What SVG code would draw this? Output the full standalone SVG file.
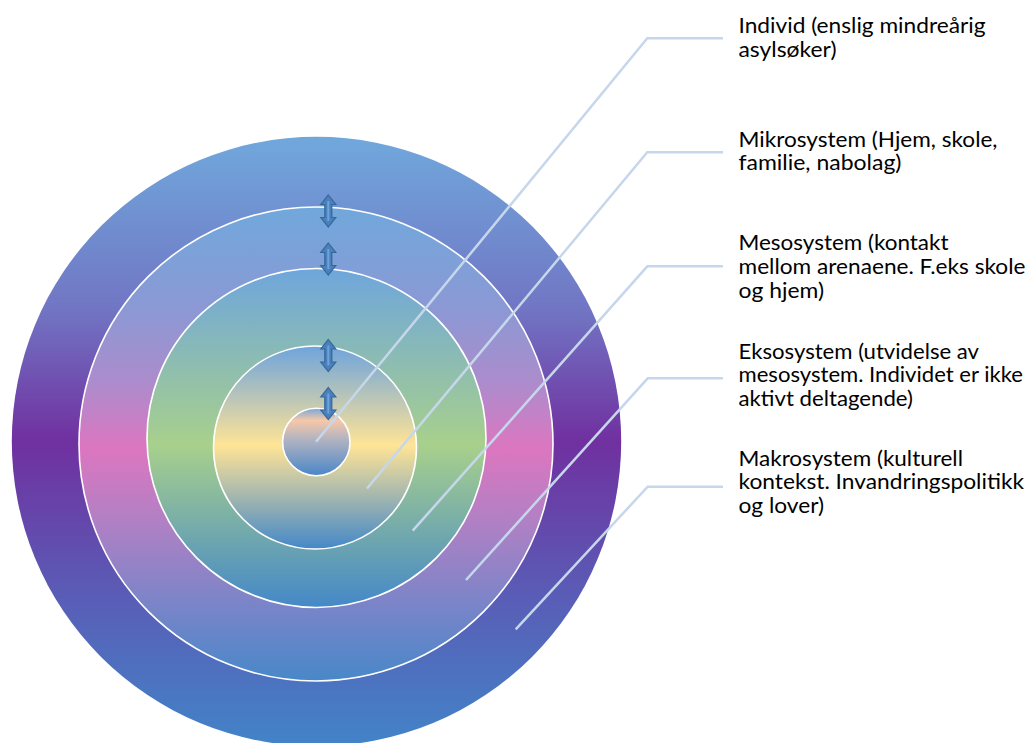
<svg xmlns="http://www.w3.org/2000/svg" xmlns:xlink="http://www.w3.org/1999/xlink" width="1031" height="743" viewBox="0 0 1031 743">
  <style>
    .ring { stroke: #ffffff; stroke-width: 1.6; }
    .leader { fill: none; stroke: #c6d7ec; stroke-width: 2.5; stroke-linejoin: miter; }
    .lbl { font-family: Lato, "Liberation Sans", sans-serif; font-size: 21px; fill: #000000; }
    .arr { fill: #4a80bb; stroke: #35679a; stroke-width: 1.2; stroke-linejoin: miter; }
    .arrhi { stroke: #6ea4da; stroke-width: 2; }
  </style>
  <defs>
    <linearGradient id="gMakro" x1="0" y1="0" x2="0" y2="1">
      <stop offset="0" stop-color="#70a8dc"/>
      <stop offset="0.28" stop-color="#7176c4"/>
      <stop offset="0.5" stop-color="#7030a0"/>
      <stop offset="0.75" stop-color="#5a5cb6"/>
      <stop offset="1" stop-color="#4284c8"/>
    </linearGradient>
    <linearGradient id="gEkso" x1="0" y1="0" x2="0" y2="1">
      <stop offset="0" stop-color="#70a8dc"/>
      <stop offset="0.22" stop-color="#8c98d4"/>
      <stop offset="0.37" stop-color="#ac8ccc"/>
      <stop offset="0.51" stop-color="#dc76c0"/>
      <stop offset="0.66" stop-color="#b280c4"/>
      <stop offset="0.82" stop-color="#8084c8"/>
      <stop offset="1" stop-color="#4888c8"/>
    </linearGradient>
    <linearGradient id="gMeso" x1="0" y1="0" x2="0" y2="1">
      <stop offset="0" stop-color="#6ea6dc"/>
      <stop offset="0.52" stop-color="#a8d08c"/>
      <stop offset="1" stop-color="#4488c8"/>
    </linearGradient>
    <linearGradient id="gMikro" x1="0" y1="0" x2="0" y2="1">
      <stop offset="0" stop-color="#6ea4dc"/>
      <stop offset="0.49" stop-color="#ffe496"/>
      <stop offset="1" stop-color="#4488c8"/>
    </linearGradient>
    <linearGradient id="gInd" x1="0" y1="0" x2="0" y2="1">
      <stop offset="0" stop-color="#7aa6d8"/>
      <stop offset="0.18" stop-color="#f6c8a8"/>
      <stop offset="0.45" stop-color="#b4b4c0"/>
      <stop offset="1" stop-color="#4a86c8"/>
    </linearGradient>
    <g id="dblArrow">
      <path class="arr" d="M0,0 L7.5,9.5 L3.5,9.5 L3.5,22.5 L7.5,22.5 L0,32 L-7.5,22.5 L-3.5,22.5 L-3.5,9.5 L-7.5,9.5 Z"/>
      <line class="arrhi" x1="0" y1="6" x2="0" y2="26"/>
    </g>
  </defs>

  <g id="rings">
    <g id="ring-makro"><circle cx="316.5" cy="441.5" r="304.7" fill="url(#gMakro)"/></g>
    <g id="ring-ekso"><circle class="ring" cx="316" cy="444" r="237" fill="url(#gEkso)"/></g>
    <g id="ring-meso"><circle class="ring" cx="316.5" cy="438" r="169.5" fill="url(#gMeso)"/></g>
    <g id="ring-mikro"><circle class="ring" cx="315" cy="447.5" r="101.5" fill="url(#gMikro)"/></g>
    <g id="ring-individ"><circle class="ring" cx="316.3" cy="442" r="33.7" fill="url(#gInd)"/></g>
  </g>

  <g id="arrows">
    <use xlink:href="#dblArrow" transform="translate(328.3,195)"/>
    <use xlink:href="#dblArrow" transform="translate(328.3,243)"/>
    <use xlink:href="#dblArrow" transform="translate(328.3,339.5)"/>
    <use xlink:href="#dblArrow" transform="translate(328.3,387.5)"/>
  </g>

  <g id="connectors">
    <polyline class="leader" points="316,441.7 647.3,38.3 723,38.3"/>
    <polyline class="leader" points="367,488.5 647.3,152.3 723,152.3"/>
    <polyline class="leader" points="412.7,530.7 647.3,266.3 723,266.3"/>
    <polyline class="leader" points="466,580 647.7,378.3 723,378.3"/>
    <polyline class="leader" points="515.7,629.3 647.7,486.7 723,486.7"/>
  </g>

  <g id="label-individ">
    <text class="lbl" x="738.5" y="33.3" textLength="247" lengthAdjust="spacingAndGlyphs">Individ (enslig mindreårig</text>
    <text class="lbl" x="738.5" y="56.7" textLength="98" lengthAdjust="spacingAndGlyphs">asylsøker)</text>
  </g>
  <g id="label-mikro">
    <text class="lbl" x="738.5" y="146.7" textLength="259" lengthAdjust="spacingAndGlyphs">Mikrosystem (Hjem, skole,</text>
    <text class="lbl" x="738.5" y="170" textLength="163" lengthAdjust="spacingAndGlyphs">familie, nabolag)</text>
  </g>
  <g id="label-meso">
    <text class="lbl" x="738.5" y="250" textLength="210" lengthAdjust="spacingAndGlyphs">Mesosystem (kontakt</text>
    <text class="lbl" x="738.5" y="273.5" textLength="287" lengthAdjust="spacingAndGlyphs">mellom arenaene. F.eks skole</text>
    <text class="lbl" x="738.5" y="298" textLength="85.5" lengthAdjust="spacingAndGlyphs">og hjem)</text>
  </g>
  <g id="label-ekso">
    <text class="lbl" x="738.5" y="359" textLength="240.5" lengthAdjust="spacingAndGlyphs">Eksosystem (utvidelse av</text>
    <text class="lbl" x="738.5" y="382" textLength="284.5" lengthAdjust="spacingAndGlyphs">mesosystem. Individet er ikke</text>
    <text class="lbl" x="738.5" y="405.5" textLength="174.5" lengthAdjust="spacingAndGlyphs">aktivt deltagende)</text>
  </g>
  <g id="label-makro">
    <text class="lbl" x="738.5" y="465.5" textLength="224.5" lengthAdjust="spacingAndGlyphs">Makrosystem (kulturell</text>
    <text class="lbl" x="738.5" y="489" textLength="285.5" lengthAdjust="spacingAndGlyphs">kontekst. Invandringspolitikk</text>
    <text class="lbl" x="738.5" y="513" textLength="85.5" lengthAdjust="spacingAndGlyphs">og lover)</text>
  </g>
</svg>
